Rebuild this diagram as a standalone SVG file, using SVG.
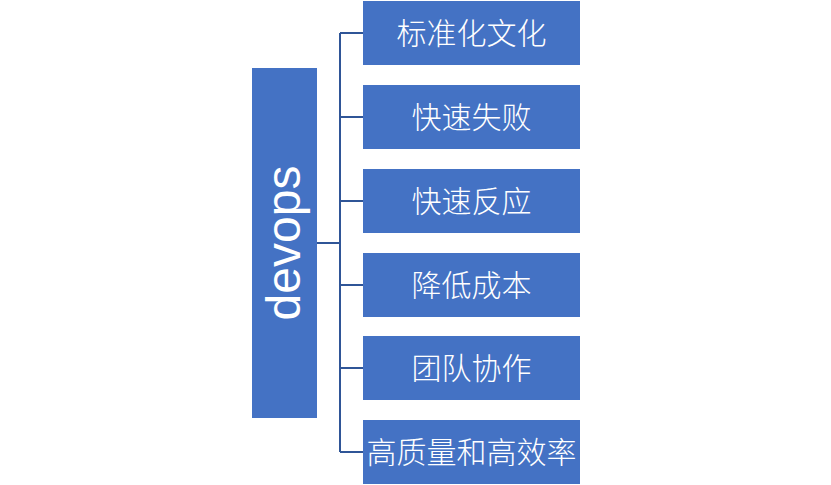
<svg xmlns="http://www.w3.org/2000/svg" width="831" height="485" viewBox="0 0 831 485">
<style>
.box{fill:#4472C4}
.lbl{fill:#FFFFFF;font-family:"Noto Sans CJK SC","Noto Sans",sans-serif;font-size:30px;font-weight:300;text-anchor:middle}
.root{fill:#FFFFFF;font-family:"Liberation Sans","DejaVu Sans",sans-serif;font-size:48px;font-weight:300;text-anchor:middle}
.conn{fill:none;stroke:#2F5597;stroke-width:2}
</style>
<rect width="831" height="485" fill="#FFFFFF"/>
<g id="connectors">
<path class="conn" d="M317,243 H340 M340,33 V452 M340,33 H363 M340,117 H363 M340,201 H363 M340,285 H363 M340,368 H363 M340,452 H363"/>
</g>
<g id="devops">
<rect class="box" x="252" y="68" width="65" height="350"/>
<text class="root" transform="translate(300,243) rotate(-90)" x="0" y="0">devops</text>
</g>
<g id="n1">
<rect class="box" x="363" y="1" width="217" height="64"/>
<text class="lbl" x="471.5" y="44">标准化文化</text>
</g>
<g id="n2">
<rect class="box" x="363" y="85" width="217" height="64"/>
<text class="lbl" x="471.5" y="128">快速失败</text>
</g>
<g id="n3">
<rect class="box" x="363" y="169" width="217" height="64"/>
<text class="lbl" x="471.5" y="212">快速反应</text>
</g>
<g id="n4">
<rect class="box" x="363" y="253" width="217" height="64"/>
<text class="lbl" x="471.5" y="296">降低成本</text>
</g>
<g id="n5">
<rect class="box" x="363" y="336" width="217" height="64"/>
<text class="lbl" x="471.5" y="379">团队协作</text>
</g>
<g id="n6">
<rect class="box" x="363" y="420" width="217" height="64"/>
<text class="lbl" x="471.5" y="463">高质量和高效率</text>
</g>
</svg>
